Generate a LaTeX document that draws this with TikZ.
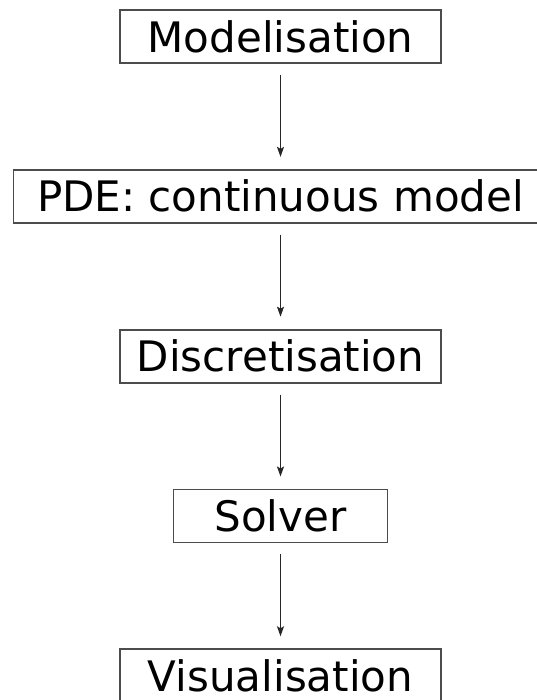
\documentclass[tikz,border=0pt]{standalone}
\usepackage{fontspec}
\setmainfont{DejaVu Sans}
\usetikzlibrary{arrows.meta}
\usetikzlibrary{positioning}
\tikzset{
	stage_node/.style = {
		rectangle,
		align=center,
		inner sep=0pt,
		text centered,
		font=\fontsize{42}{50}\selectfont,
		draw=black!70,
		line width=1.8pt,
		minimum height=53pt,
		minimum width=321pt
	},
	stage_wide/.style = {
		stage_node,
		minimum width=534pt
	},
	stage_small/.style = {
		stage_node,
		minimum width=214pt
	},
	flow/.style = {
		-{Stealth[length=10pt,width=7pt,inset=2pt]},
		line width=1.5pt,
		draw=black!85,
		shorten <=11pt,
		shorten >=12pt
	},
}
\begin{document}
\begin{tikzpicture}[node distance=105pt]
\useasboundingbox (0,0) rectangle (536pt,-700pt);
\node [stage_node] (model) at (280.5pt,-36.5pt) {Modelisation};
\node [stage_wide, below=of model] (pde) {PDE: continuous model};
\node [stage_node, below=of pde] (discr) {Discretisation};
\node [stage_small, below=of discr] (solver) {Solver};
\node [stage_node, below=of solver] (visu) {Visualisation};

\draw [flow] (model) -- (pde);
\draw [flow] (pde) -- (discr);
\draw [flow] (discr) -- (solver);
\draw [flow] (solver) -- (visu);
\end{tikzpicture}
\end{document}
